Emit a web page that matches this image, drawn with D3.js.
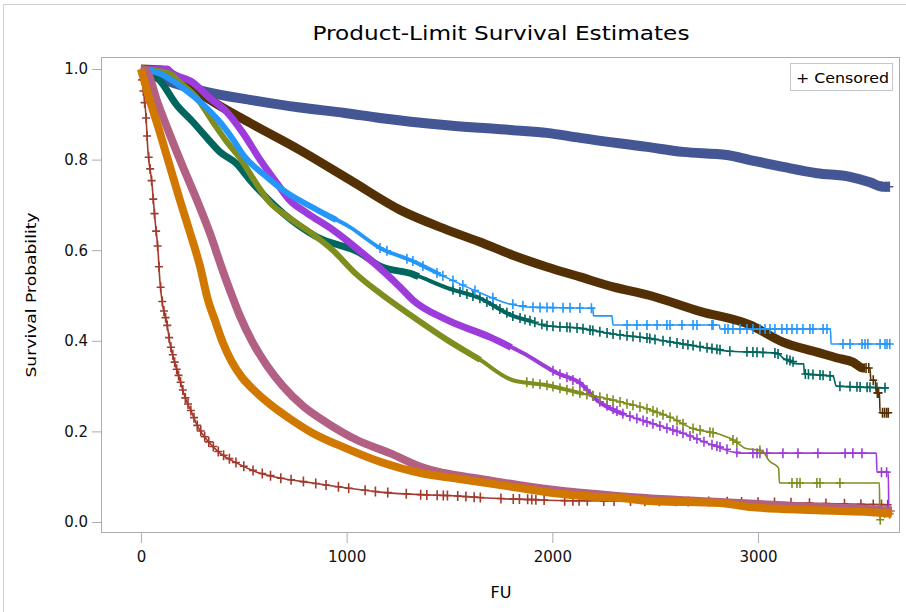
<!DOCTYPE html>
<html>
<head>
<meta charset="utf-8">
<script src="https://cdn.jsdelivr.net/npm/d3@7"></script>
<style>
  body { margin: 0; background: #fff; }
  svg { display: block; }
</style>
</head>
<body>
<script>
// Kaplan-Meier curves: [FU, survival] vertices
const curveBlue = [[0,1],[15,0.995],[40,0.99],[92,0.98],[190,0.965],[321,0.949],[530,0.932],[773,0.915],[992,0.903],[1162,0.892],[1488,0.876],[1808,0.865],[1974,0.859],[2134,0.848],[2460,0.828],[2635,0.817],[2849,0.81],[2961,0.799],[3121,0.784],[3286,0.77],[3447,0.762],[3544,0.75],[3607,0.74],[3641,0.74]];
const curveRed = [[0,1],[10,0.96],[24,0.9],[34,0.82],[53,0.75],[68,0.67],[83,0.6],[92,0.534],[107,0.475],[126,0.44],[141,0.395],[165,0.351],[190,0.313],[214,0.276],[248,0.241],[277,0.21],[321,0.181],[384,0.152],[467,0.13],[564,0.11],[676,0.097],[836,0.086],[1001,0.075],[1162,0.066],[1371,0.06],[1517,0.058],[1682,0.053],[2071,0.047],[2815,0.045],[3204,0.042],[3641,0.038]];
const curveTeal = [[0,1],[44,0.995],[92,0.975],[175,0.92],[253,0.883],[321,0.848],[384,0.817],[467,0.79],[530,0.755],[690,0.682],[856,0.629],[1065,0.594],[1162,0.565],[1322,0.547],[1488,0.517],[1648,0.494],[1808,0.455],[1974,0.433],[2134,0.428],[2295,0.415],[2460,0.406],[2635,0.393],[2863,0.377],[3092,0.373],[3121,0.362],[3200,0.349],[3222,0.349],[3225,0.327],[3365,0.322],[3380,0.3],[3627,0.296]];
const curveBrown = [[0,1],[100,0.998],[141,0.99],[224,0.967],[335,0.932],[530,0.881],[773,0.821],[1016,0.755],[1259,0.689],[1488,0.645],[1648,0.618],[1808,0.589],[1974,0.563],[2134,0.541],[2295,0.519],[2474,0.5],[2717,0.465],[2961,0.435],[3121,0.397],[3286,0.375],[3384,0.362],[3461,0.353],[3510,0.34],[3544,0.34],[3548,0.313],[3570,0.313],[3574,0.285],[3590,0.285],[3593,0.241],[3635,0.241]];
const curvePurple = [[0,1],[130,1],[141,0.995],[253,0.97],[335,0.936],[418,0.905],[496,0.859],[579,0.8],[661,0.748],[724,0.71],[807,0.682],[933,0.645],[1099,0.585],[1259,0.519],[1322,0.49],[1488,0.446],[1697,0.408],[1857,0.373],[2022,0.329],[2134,0.307],[2217,0.269],[2329,0.241],[2460,0.221],[2586,0.203],[2635,0.196],[2766,0.172],[2912,0.152],[3575,0.152],[3578,0.11],[3633,0.11],[3636,0.02],[3640,0.02]];
const curveOlive = [[0,1],[141,0.99],[190,0.97],[272,0.936],[350,0.883],[418,0.839],[481,0.804],[564,0.745],[627,0.705],[710,0.675],[822,0.64],[933,0.6],[1040,0.55],[1162,0.505],[1322,0.453],[1488,0.402],[1648,0.358],[1808,0.313],[1974,0.302],[2134,0.285],[2295,0.269],[2460,0.25],[2580,0.23],[2678,0.207],[2810,0.194],[2888,0.179],[2937,0.163],[3020,0.157],[3054,0.135],[3100,0.119],[3104,0.086],[3590,0.086],[3592,0.005],[3596,0.005]];
const curveSky = [[0,1],[92,0.99],[204,0.958],[301,0.922],[384,0.883],[447,0.845],[505,0.806],[603,0.765],[690,0.733],[856,0.689],[1016,0.651],[1162,0.605],[1322,0.576],[1488,0.539],[1648,0.506],[1779,0.483],[1900,0.474],[2197,0.472],[2200,0.455],[2290,0.455],[2295,0.435],[2812,0.435],[2815,0.426],[3352,0.426],[3355,0.393],[3646,0.393]];
const curvePink = [[0,1],[20,0.997],[34,0.99],[78,0.93],[141,0.855],[204,0.784],[272,0.711],[335,0.638],[394,0.56],[438,0.505],[481,0.455],[545,0.395],[613,0.345],[690,0.3],[788,0.256],[904,0.219],[1050,0.181],[1210,0.152],[1371,0.12],[1682,0.093],[2003,0.071],[2329,0.057],[2815,0.044],[3204,0.035],[3607,0.026],[3650,0.024]];
const curveOrange = [[0,1],[44,0.93],[92,0.86],[141,0.785],[190,0.71],[238,0.64],[287,0.565],[326,0.49],[360,0.445],[399,0.395],[440,0.355],[490,0.32],[545,0.293],[627,0.26],[724,0.228],[836,0.196],[1001,0.162],[1162,0.133],[1371,0.107],[1517,0.097],[1682,0.086],[1843,0.075],[2003,0.064],[2168,0.057],[2329,0.053],[2489,0.046],[2815,0.042],[2961,0.033],[3286,0.026],[3607,0.02],[3650,0.018]];

// censoring times (FU) per group
const censBlue = [3600, 3622, 3638];
const censRed = [6, 12, 18, 25, 30, 38, 45, 52, 60, 66, 74, 81, 88, 96, 104, 112, 120, 128, 137, 146, 155, 164, 174, 183, 193, 204, 216, 229, 243, 258, 274, 291, 310, 330, 352, 376, 402, 430, 462, 500, 545, 590, 630, 680, 730, 790, 850, 900, 960, 1010, 1090, 1140, 1200, 1290, 1360, 1390, 1440, 1470, 1490, 1540, 1580, 1620, 1650, 1750, 1810, 1840, 1880, 1900, 1920, 1960, 2060, 2100, 2130, 2170, 2250, 2300, 2380, 2450, 2520, 2600, 2660, 2760, 2850, 2920, 3000, 3080, 3160, 3250, 3330, 3420, 3500, 3560, 3600, 3630];
const censTeal = [1517, 1551, 1585, 1614, 1648, 1682, 1711, 1745, 1779, 1808, 1843, 1867, 1891, 1915, 1949, 1974, 2003, 2037, 2071, 2086, 2120, 2149, 2183, 2197, 2231, 2266, 2295, 2329, 2363, 2392, 2426, 2460, 2474, 2499, 2538, 2572, 2606, 2635, 2659, 2684, 2718, 2752, 2776, 2800, 2815, 2863, 2946, 2975, 2995, 3024, 3082, 3097, 3140, 3155, 3170, 3230, 3245, 3267, 3301, 3316, 3350, 3398, 3447, 3481, 3496, 3530, 3544, 3578, 3617];
const censBrown = [3525, 3538, 3560, 3580, 3586, 3605, 3615, 3625, 3633];
const censPurple = [2003, 2037, 2071, 2100, 2134, 2168, 2197, 2231, 2266, 2295, 2314, 2343, 2377, 2411, 2441, 2460, 2489, 2523, 2557, 2586, 2606, 2635, 2669, 2703, 2737, 2776, 2800, 2815, 2849, 2897, 2975, 2995, 3009, 3043, 3121, 3194, 3291, 3423, 3461, 3505, 3600, 3625];
const censOlive = [1876, 1906, 1940, 1974, 2003, 2037, 2071, 2100, 2134, 2168, 2197, 2231, 2266, 2295, 2329, 2363, 2392, 2426, 2460, 2489, 2509, 2538, 2572, 2606, 2635, 2684, 2718, 2766, 2781, 2878, 2897, 3009, 3165, 3189, 3204, 3286, 3301, 3398, 3594];
const censSky = [1162, 1196, 1293, 1322, 1371, 1439, 1468, 1517, 1565, 1624, 1711, 1808, 1857, 1906, 1940, 1974, 2003, 2052, 2086, 2134, 2190, 2363, 2411, 2460, 2509, 2557, 2572, 2630, 2684, 2703, 2776, 2781, 2839, 2854, 2878, 2912, 2946, 2975, 3009, 3034, 3058, 3082, 3116, 3140, 3165, 3189, 3218, 3252, 3267, 3316, 3335, 3413, 3447, 3505, 3520, 3534, 3593, 3617, 3627, 3640];
const censPink = [3620, 3645];
const censOrange = [3615, 3640];

const xTicks = [0, 1000, 2000, 3000];
const yTicks = [0, 0.2, 0.4, 0.6, 0.8, 1.0];

const W = 906;
const H = 612;
const FONT = '"DejaVu Sans", "Liberation Sans", Arial, sans-serif';

// draw order as in the SAS output.
// band: FU up to which the censor marks merge into a solid band, taper: FU where a thinner band stops
const groups = [
  { color: '#445694', curve: curveBlue, cens: censBlue, band: 3641, taper: 0, bw: 10 },
  { color: '#A23A2E', curve: curveRed, cens: censRed, band: 0, taper: 0, bw: 0 },
  { color: '#01665E', curve: curveTeal, cens: censTeal, band: 1350, taper: 1900, bw: 7 },
  { color: '#543005', curve: curveBrown, cens: censBrown, band: 3520, taper: 0, bw: 9 },
  { color: '#9D3CDB', curve: curvePurple, cens: censPurple, band: 1800, taper: 2350, bw: 7 },
  { color: '#7F8E1F', curve: curveOlive, cens: censOlive, band: 1650, taper: 2150, bw: 6 },
  { color: '#2597FA', curve: curveSky, cens: censSky, band: 950, taper: 1450, bw: 6 },
  { color: '#B26084', curve: curvePink, cens: censPink, band: 3650, taper: 0, bw: 8 },
  { color: '#D17800', curve: curveOrange, cens: censOrange, band: 3650, taper: 0, bw: 8 },
];

function survAt(pts, t) {
  // value of the curve at time t (after any drop at t)
  let s = pts[0][1];
  for (let i = 0; i < pts.length - 1; i += 1) {
    const a = pts[i];
    const b = pts[i + 1];
    if (t >= a[0] && t <= b[0]) {
      s = b[0] === a[0] ? b[1] : a[1] + (b[1] - a[1]) * (t - a[0]) / (b[0] - a[0]);
    }
  }
  if (t > pts[pts.length - 1][0]) s = pts[pts.length - 1][1];
  return s;
}

function upTo(pts, t) {
  const part = pts.filter((d) => d[0] <= t);
  if (part[part.length - 1][0] < t) part.push([t, survAt(pts, t)]);
  return part;
}

const svg = d3.select('body').append('svg').attr('width', W).attr('height', H);

// outer border of the graph image
svg.append('path').attr('d', 'M3.5,612V4.5H906')
  .attr('fill', 'none').attr('stroke', '#D0D0D0');

const x = d3.scaleLinear().domain([-194, 3690]).range([101, 900]);
const y = d3.scaleLinear().domain([-0.0243, 1.0265]).range([533, 57]);

svg.append('text').attr('x', 501).attr('y', 40)
  .attr('text-anchor', 'middle').attr('font-family', FONT).attr('font-size', 19)
  .attr('textLength', 377).attr('lengthAdjust', 'spacingAndGlyphs')
  .text('Product-Limit Survival Estimates');

svg.append('defs').append('clipPath').attr('id', 'clip')
  .append('rect').attr('x', 101).attr('y', 57).attr('width', 799).attr('height', 476);

const xAxis = svg.append('g').attr('transform', 'translate(0,533)')
  .call(d3.axisBottom(x).tickValues(xTicks).tickSize(10).tickPadding(8).tickFormat(d3.format('d')));
const yAxis = svg.append('g').attr('transform', 'translate(101,0)')
  .call(d3.axisLeft(y).tickValues(yTicks).tickSize(9).tickPadding(4).tickFormat(d3.format('.1f')));
[xAxis, yAxis].forEach((ax) => {
  ax.select('.domain').remove();
  ax.selectAll('.tick line').attr('stroke', '#A8ADB2');
  ax.selectAll('.tick text').attr('font-family', FONT).attr('font-size', 15).attr('fill', '#111');
});

svg.append('text').attr('x', 501).attr('y', 598)
  .attr('text-anchor', 'middle').attr('font-family', FONT).attr('font-size', 16)
  .text('FU');
svg.append('text').attr('transform', 'translate(36,295) rotate(-90)')
  .attr('text-anchor', 'middle').attr('font-family', FONT).attr('font-size', 14)
  .attr('textLength', 165).attr('lengthAdjust', 'spacingAndGlyphs')
  .text('Survival Probability');

const plot = svg.append('g').attr('clip-path', 'url(#clip)');
const line = d3.line().x((d) => x(d[0])).y((d) => y(d[1])).curve(d3.curveMonotoneX);
const plus = 'M-4,0H4M0,-5V5';

groups.forEach((g) => {
  const gg = plot.append('g');
  if (g.taper > 0) {
    gg.append('path').attr('d', line(upTo(g.curve, g.taper)))
      .attr('fill', 'none').attr('stroke', g.color).attr('stroke-width', 4)
      .attr('stroke-linejoin', 'round');
  }
  if (g.band > 0) {
    gg.append('path').attr('d', line(upTo(g.curve, g.band)))
      .attr('fill', 'none').attr('stroke', g.color).attr('stroke-width', g.bw)
      .attr('stroke-linejoin', 'round');
  }
  gg.append('path').attr('d', line(g.curve))
    .attr('fill', 'none').attr('stroke', g.color).attr('stroke-width', 1.6);
  gg.selectAll('path.cm').data(g.cens).join('path').attr('class', 'cm')
    .attr('transform', (t) => `translate(${x(t)},${y(survAt(g.curve, t))})`)
    .attr('d', plus).attr('stroke', g.color).attr('stroke-width', 1.6).attr('fill', 'none');
});

// plot wall outline
svg.append('rect').attr('x', 101.5).attr('y', 57.5).attr('width', 798).attr('height', 475)
  .attr('fill', 'none').attr('stroke', '#A8ADB2');

// legend
svg.append('rect').attr('x', 790.5).attr('y', 63.5).attr('width', 102).attr('height', 27)
  .attr('fill', '#fff').attr('stroke', '#C4C8CC');
svg.append('text').attr('x', 796).attr('y', 83)
  .attr('font-family', FONT).attr('font-size', 14)
  .attr('textLength', 93).attr('lengthAdjust', 'spacingAndGlyphs')
  .text('+ Censored');
</script>
</body>
</html>
